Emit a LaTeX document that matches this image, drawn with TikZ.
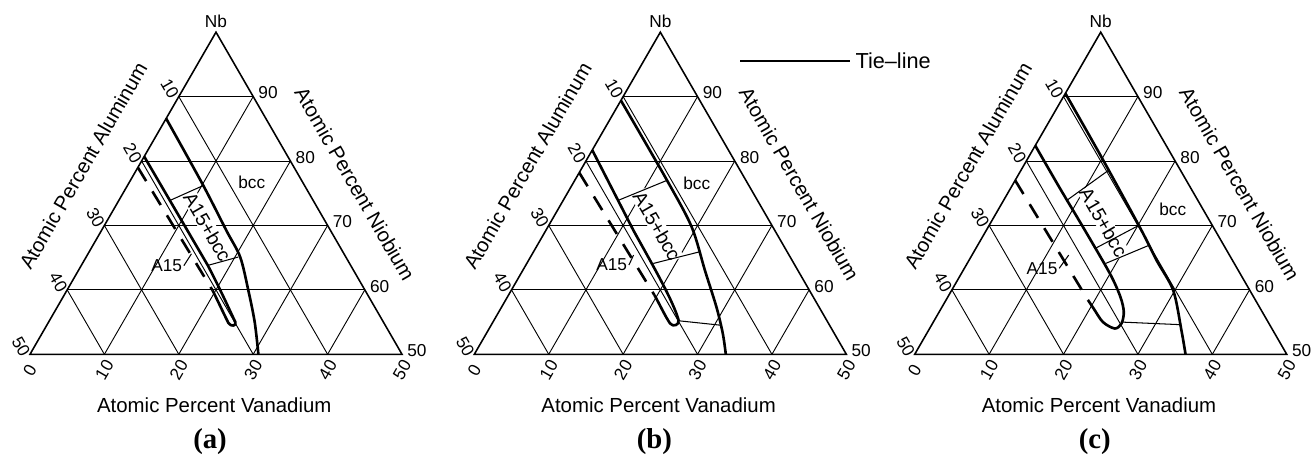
\documentclass[tikz,border=0pt]{standalone}
\usepackage{fontspec}
\setmainfont{Liberation Sans}
\newfontfamily\capfont{Liberation Serif}
\tikzset{
  frame/.style={line width=0.6pt},
  gridline/.style={line width=0.35pt},
  phase/.style={line width=1pt, line join=round},
  uncertain/.style={line width=1pt, dash pattern=on 6.1pt off 4.6pt},
  tie/.style={line width=0.4pt},
  ticklbl/.style={font=\fontsize{6.6}{7.5}\selectfont, inner sep=0pt},
  axislbl/.style={font=\fontsize{7.8}{9}\selectfont, inner sep=0pt},
  fieldlbl/.style={font=\fontsize{6.6}{8}\selectfont, inner sep=0.5pt},
  bandlbl/.style={font=\fontsize{7.4}{9}\selectfont, fill=white, inner sep=0.4pt, rotate=-60},
  legendlbl/.style={font=\fontsize{8.3}{10}\selectfont, inner sep=1.9pt, anchor=west},
  caplbl/.style={font=\capfont\bfseries\fontsize{11}{13}\selectfont, inner sep=0pt},
  tern/.style={x={(0.1cm,0cm)}, y={(0.05cm,0.0866cm)}}
}
\newcommand\ternframe[1]{%
  \begin{scope}[tern]
    \draw[frame] (0,0) -- (50,0) -- (0,50) -- cycle;
    \foreach \k in {10,20,30,40} {
      \draw[gridline] (0,\k) -- (50-\k,\k);
      \draw[gridline] (\k,0) -- (\k,50-\k);
      \draw[gridline] (0,50-\k) -- (50-\k,0);
    }
    \foreach \k [evaluate=\k as \nb using int(50+\k),
                 evaluate=\k as \al using int(50-\k)] in {0,10,...,40} {
      \node[ticklbl] (#1nb\k) at ([xshift=0.2cm,yshift=0.05cm]50-\k,\k) {\nb};
      \node[ticklbl, rotate=-60] (#1al\k) at ([xshift=-0.12cm,yshift=0.105cm]0,\k) {\al};
    }
    \foreach \k in {0,10,...,50}
      \node[ticklbl, rotate=60] (#1v\k) at ([yshift=-0.21cm]\k,0) {\k};
    \node[ticklbl] (#1top) at ([yshift=0.152cm]0,50) {Nb};
  \end{scope}
  \node[axislbl] (#1xv) at (2.477,-0.681) {Atomic Percent Vanadium};
  \node[axislbl, rotate=60] (#1xal) at (0.716,2.535) {Atomic Percent Aluminum};
  \node[axislbl, rotate=-60] (#1xnb) at (4.368,2.289) {Atomic Percent Niobium};
  \node[caplbl] (#1cap) at (2.42,-1.179) {(#1)};
}
\begin{document}
\begin{tikzpicture}
\useasboundingbox (0,0) rectangle (17.634,6.116);
% (a)
\begin{scope}[shift={(0.403,1.354)}]
  \ternframe{a}
  \node[fieldlbl] (abcc) at (2.98,2.306) {bcc};
  \node[fieldlbl] (aA15) at (1.837,1.191) {A15};
  \node[bandlbl] (aband) at (2.386,1.711) {A15+bcc};
  \begin{scope}[tern]
    \draw[phase] plot[smooth] coordinates {(0,36.6) (10,26.4) (16.8,19.2) (20.7,15.1) (24.4,9.9) (27.7,5.0) (30.7,0)};
    \draw[phase] (0,30.7) -- (17.0,13.8) .. controls (21.0,9.6) and (23.8,6.4) .. (25.1,5.0)
      .. controls (25.6,4.4) and (24.9,4.2) .. (24.2,4.9) .. controls (22.8,6.4) and (21.0,8.4) .. (19.6,9.9);
    \draw[uncertain] (0,29.0) -- (19.6,9.9);
    \draw[tie] (6.9,23.9) -- (10.2,26.2);
    \draw[tie] (17.0,13.8) -- (20.45,15.1);
    \draw[tie] (aA15.east) -- (13.9,15.6);
  \end{scope}
\end{scope}
% (b)
\begin{scope}[shift={(6.375,1.354)}]
  \ternframe{b}
  \node[fieldlbl] (bbcc) at (2.989,2.298) {bcc};
  \node[fieldlbl] (bA15) at (1.847,1.2) {A15};
  \node[bandlbl] (bband) at (2.456,1.724) {A15+bcc};
  \node[legendlbl] (tieleg) at (5.05,3.942) {Tie–line};
  \coordinate (tiestart) at (3.571,3.942);
  \draw[tie] (tiestart) -- (tieleg.west);
  \begin{scope}[tern]
    \draw[phase] plot[smooth] coordinates {(0,39.4) (12.4,27.0) (19.3,19.8) (24.5,13.0) (28.9,7.3) (31.8,3.2) (33.8,0)};
    \draw[phase] (0,31.7) -- (11.8,19.2) .. controls (16.5,14.4) and (22.6,8.3) .. (24.8,5.3)
      .. controls (25.3,4.5) and (24.6,4.2) .. (23.9,4.8) .. controls (22.6,6.0) and (20.9,7.9) .. (19.6,9.2);
    \draw[uncertain] (0,28.2) -- (19.6,9.2);
    \draw[tie] (7.4,23.9) -- (12.4,27.0);
    \draw[tie] (17.0,14.1) -- (22.3,15.9);
    \draw[tie] (24.9,5.2) -- (31.0,4.5);
    \draw[tie] (bA15.east) -- (13.7,15.4);
  \end{scope}
\end{scope}
% (c)
\begin{scope}[shift={(12.294,1.354)}]
  \ternframe{c}
  \node[fieldlbl] (cbcc) at (3.468,1.953) {bcc};
  \node[fieldlbl] (cA15) at (1.711,1.156) {A15};
  \node[bandlbl] (cband) at (2.54,1.774) {A15+bcc};
  \begin{scope}[tern]
    \draw[phase] plot[smooth] coordinates {(0,40.5) (10,30.4) (20.7,19.4) (25.3,14.5) (29.8,9.9) (34.0,3.7) (36.4,0)};
    \draw[phase] plot[smooth] coordinates {(0,32.4) (6.6,25.8) (13.3,19.2) (20.0,12.5) (23.2,8.9) (24.8,6.6)
      (25.4,4.8) (24.9,4.0) (22.8,5.0) (20.5,7.1) (19.1,8.4)};
    \draw[uncertain] (0,27.0) -- (19.1,8.4);
    \draw[tie] (8.5,23.9) -- (11.8,28.6);
    \draw[tie] (16.0,16.4) -- (20.1,20.0);
    \draw[tie] (18.6,14.1) -- (23.0,16.9);
    \draw[tie] (25.35,5.0) -- (33.4,4.6);
    \draw[tie] (cA15.east) -- (13.0,15.4);
  \end{scope}
\end{scope}
\end{tikzpicture}
\end{document}
